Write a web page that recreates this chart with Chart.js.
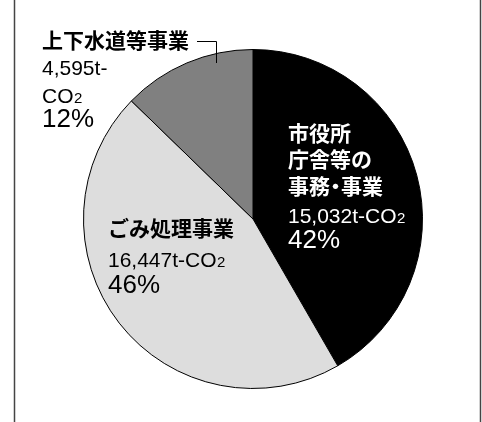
<!DOCTYPE html>
<html>
<head>
<meta charset="utf-8">
<script src="https://cdn.jsdelivr.net/npm/chart.js@4/dist/chart.umd.min.js"></script>
<style>
html,body{margin:0;padding:0;background:#fff;}
#wrap{position:relative;width:482px;height:422px;}
</style>
</head>
<body>
<div id="wrap"><canvas id="c" width="482" height="422"></canvas></div>
<script>
// ---- data ----
const categories = [
  ['市役所', '庁舎等の', '事務・事業'],
  ['ごみ処理事業'],
  ['上下水道等事業']
];
const values = [15032, 16447, 4595];
const percentLabels = ['42%', '46%', '12%'];
const unitLabel = 't-CO';
const unitSub = '2';
const sliceColors = ['#000000', '#dddddd', '#808080'];

const CJK = '"Noto Sans CJK JP", "Noto Sans CJK SC", sans-serif';
const LAT = '"Liberation Sans", Arial, sans-serif';

function drawValue(ctx, x, y, text, withUnit, color) {
  ctx.fillStyle = color;
  ctx.textBaseline = 'alphabetic';
  ctx.textAlign = 'left';
  ctx.font = '21px ' + LAT;
  const t = text + (withUnit ? unitLabel : '');
  ctx.fillText(t, x, y);
  if (withUnit) {
    const w = ctx.measureText(t).width;
    ctx.font = '15px ' + LAT;
    ctx.fillText(unitSub, x + w + 0.5, y);
  }
}

// draw CJK line, with a narrow (proportional) middle dot
function drawCJK(ctx, text, x, y) {
  const parts = text.split('・');
  let cx = x;
  parts.forEach((p, i) => {
    if (i > 0) {
      const dw = ctx.measureText('・').width;
      const narrow = 11;
      ctx.fillText('・', cx - (dw - narrow) / 2, y);
      cx += narrow;
    }
    ctx.fillText(p, cx, y);
    cx += ctx.measureText(p).width;
  });
}

const labelPlugin = {
  id: 'labels',
  afterDraw(chart) {
    const ctx = chart.ctx;
    const meta = chart.getDatasetMeta(0);
    const arc = meta.data[0];
    const cx = arc.x, cy = arc.y;
    ctx.save();
    // frame side lines
    ctx.strokeStyle = '#444';
    ctx.lineWidth = 1.5;
    ctx.beginPath();
    ctx.moveTo(14.5, 0); ctx.lineTo(14.5, chart.height);
    ctx.moveTo(480.5, 0); ctx.lineTo(480.5, chart.height);
    ctx.stroke();

    // slice 0 label (white on black)
    let x = cx + 35;
    ctx.fillStyle = '#ffffff';
    ctx.font = 'bold 21px ' + CJK;
    ctx.textBaseline = 'middle';
    ctx.textAlign = 'left';
    const ys0 = [cy - 86, cy - 60, cy - 33];
    categories[0].forEach((ln, i) => drawCJK(ctx, ln, x, ys0[i]));
    drawValue(ctx, x, cy + 4, values[0].toLocaleString('en-US'), true, '#ffffff');
    ctx.font = '26px ' + LAT;
    ctx.textBaseline = 'alphabetic';
    ctx.fillText(percentLabels[0], x, cy + 29);

    // slice 1 label
    x = cx - 145;
    ctx.fillStyle = '#000';
    ctx.font = 'bold 21px ' + CJK;
    ctx.textBaseline = 'middle';
    drawCJK(ctx, categories[1][0], x, cy + 9);
    drawValue(ctx, x, cy + 48, values[1].toLocaleString('en-US'), true, '#000');
    ctx.font = '26px ' + LAT;
    ctx.textBaseline = 'alphabetic';
    ctx.fillText(percentLabels[1], x, cy + 74);

    // slice 2 label (outside, top-left)
    x = cx - 211;
    ctx.fillStyle = '#000';
    ctx.font = 'bold 21px ' + CJK;
    ctx.textBaseline = 'middle';
    drawCJK(ctx, categories[2][0], x, cy - 179);
    drawValue(ctx, x, cy - 144, values[2].toLocaleString('en-US') + 't-', false, '#000');
    // "CO2" line
    ctx.font = '21px ' + LAT;
    ctx.textBaseline = 'alphabetic';
    ctx.fillText('CO', x, cy - 116);
    const wco = ctx.measureText('CO').width;
    ctx.font = '15px ' + LAT;
    ctx.fillText(unitSub, x + wco + 0.5, cy - 116);
    ctx.font = '26px ' + LAT;
    ctx.fillText(percentLabels[2], x, cy - 92);

    // leader line
    ctx.strokeStyle = '#000';
    ctx.lineWidth = 1;
    ctx.beginPath();
    ctx.moveTo(cx - 56, cy - 177.5);
    ctx.lineTo(cx - 36.5, cy - 177.5);
    ctx.lineTo(cx - 36.5, cy - 156);
    ctx.stroke();
    ctx.restore();
  }
};

new Chart(document.getElementById('c'), {
  type: 'pie',
  data: {
    labels: categories.map(c => c.join('')),
    datasets: [{
      data: values,
      backgroundColor: sliceColors,
      borderColor: '#000000',
      borderWidth: 1
    }]
  },
  options: {
    responsive: false,
    animation: false,
    layout: { padding: { left: 83, right: 59, top: 49, bottom: 33 } },
    plugins: { legend: { display: false }, tooltip: { enabled: false } }
  },
  plugins: [labelPlugin]
});
</script>
</body>
</html>
